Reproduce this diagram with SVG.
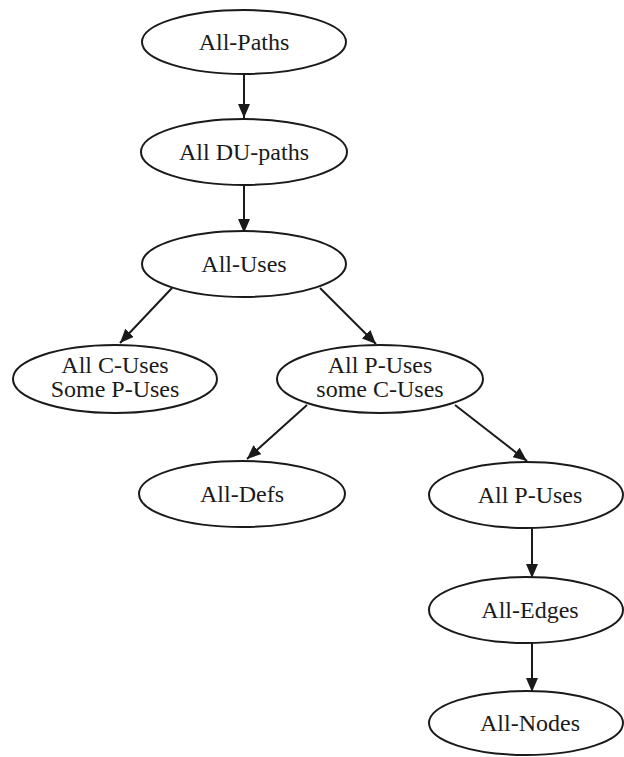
<svg xmlns="http://www.w3.org/2000/svg" width="624" height="757" viewBox="0 0 624 757">
<style>
ellipse{fill:#fff;stroke:#1a1a1a;stroke-width:2}
text{font-family:"Liberation Serif","Times New Roman",serif;font-size:24px;fill:#1a1a1a;text-anchor:middle}
.c line{stroke:#1a1a1a;stroke-width:2;marker-end:url(#ah)}
</style>
<defs>
<marker id="ah" viewBox="0 0 14 12" refX="14" refY="6" markerWidth="14" markerHeight="12" markerUnits="userSpaceOnUse" orient="auto">
<path d="M0,0 L14,6 L0,12 Z" fill="#1a1a1a"/>
</marker>
</defs>
<rect width="624" height="757" fill="#fff"/>
<g class="c" id="connectors">
<line x1="244" y1="74" x2="244" y2="118"/>
<line x1="244" y1="185" x2="244" y2="233"/>
<line x1="172" y1="288" x2="120" y2="343"/>
<line x1="320" y1="288" x2="376" y2="344"/>
<line x1="307" y1="405" x2="247" y2="459"/>
<line x1="455" y1="405" x2="527" y2="461"/>
<line x1="532" y1="528" x2="532" y2="578"/>
<line x1="532" y1="643" x2="532" y2="692"/>
</g>
<g id="all-paths"><ellipse cx="244" cy="42" rx="102" ry="32"/><text x="244" y="50">All-Paths</text></g>
<g id="all-du-paths"><ellipse cx="244" cy="152" rx="103" ry="33"/><text x="244" y="160">All DU-paths</text></g>
<g id="all-uses"><ellipse cx="244" cy="264" rx="102" ry="33"/><text x="244" y="272">All-Uses</text></g>
<g id="all-c-uses"><ellipse cx="115" cy="379" rx="102" ry="34"/><text x="115" y="373">All C-Uses</text><text x="115" y="397">Some P-Uses</text></g>
<g id="all-p-uses-some-c"><ellipse cx="380" cy="379" rx="103" ry="34"/><text x="380" y="373">All P-Uses</text><text x="380" y="397">some C-Uses</text></g>
<g id="all-defs"><ellipse cx="242" cy="494" rx="103" ry="33"/><text x="242" y="502">All-Defs</text></g>
<g id="all-p-uses"><ellipse cx="526" cy="495" rx="97" ry="33"/><text x="530" y="503">All P-Uses</text></g>
<g id="all-edges"><ellipse cx="526" cy="610" rx="97" ry="33"/><text x="530" y="618">All-Edges</text></g>
<g id="all-nodes"><ellipse cx="526" cy="723" rx="97" ry="32"/><text x="530" y="731">All-Nodes</text></g>
</svg>
